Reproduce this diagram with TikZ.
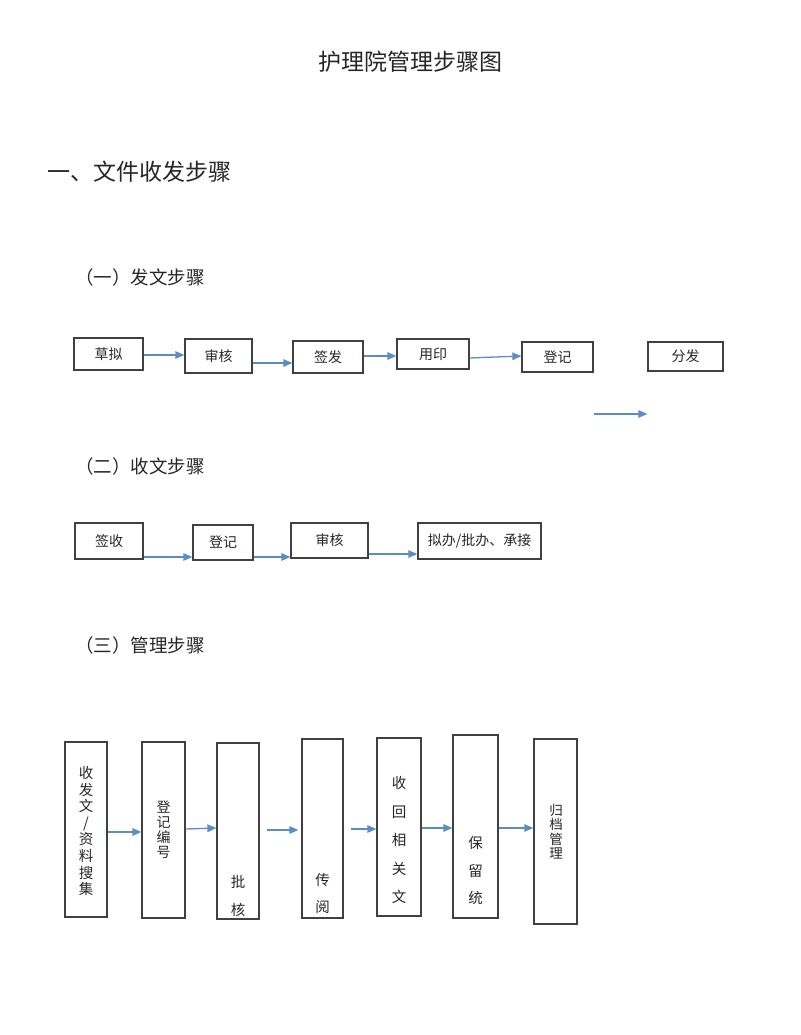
\documentclass[tikz,border=0pt]{standalone}
\usepackage{fontspec}
\setmainfont{Noto Sans CJK SC}
\usetikzlibrary{arrows.meta}
\definecolor{arrowblue}{HTML}{5B8CC4}
\definecolor{boxline}{HTML}{404040}
\definecolor{txt}{HTML}{262626}
\begin{document}
\begin{tikzpicture}[x=1pt,y=-1pt,
  box/.style={draw=boxline, line width=1.3pt, rectangle, inner sep=0pt, text=txt, font=\fontsize{14}{16}\selectfont},
  arr/.style={draw=arrowblue, line width=1.3pt, -{Triangle[length=9pt,width=7.5pt]}},
  vtext/.style={text=txt, align=center, inner sep=0pt},
  head/.style={text=txt, inner sep=0pt}]
\useasboundingbox (0,0) rectangle (800,1035);

% titles
\node[head, font=\fontsize{23}{25}\selectfont] (title) at (410.5,62) {护理院管理步骤图};
\node[head, anchor=west, font=\fontsize{23}{25}\selectfont] (h1) at (47,172) {一、文件收发步骤};
\node[head, anchor=west, font=\fontsize{18.5}{20}\selectfont] (s1) at (75,277) {（一）发文步骤};
\node[head, anchor=west, font=\fontsize{18.5}{20}\selectfont] (s2) at (75,466) {（二）收文步骤};
\node[head, anchor=west, font=\fontsize{18.5}{20}\selectfont] (s3) at (75,645) {（三）管理步骤};

% row 1
\node[box, minimum width=69pt, minimum height=32pt] (a1) at (108.5,354) {草拟};
\node[box, minimum width=67pt, minimum height=34pt] (a2) at (218.5,356) {审核};
\node[box, minimum width=70pt, minimum height=32pt] (a3) at (328,357) {签发};
\node[box, minimum width=72pt, minimum height=30pt] (a4) at (433,354) {用印};
\node[box, minimum width=71pt, minimum height=30pt] (a5) at (557.5,357) {登记};
\node[box, minimum width=75pt, minimum height=29pt] (a6) at (685.5,356.5) {分发};

\draw[arr] (a1.east |- 0,355) -- (a2.west |- 0,355);
\draw[arr] (a2.east |- 0,363) -- (a3.west |- 0,363);
\draw[arr] (a3.east |- 0,356) -- (a4.west |- 0,356);
\draw[arr] (a4.east |- 0,358) -- (a5.west |- 0,356);
\draw[arr] (a5.east |- 0,414) -- (a6.west |- 0,414);

% row 2
\node[box, minimum width=68pt, minimum height=36pt] (b1) at (109,541) {签收};
\node[box, minimum width=60pt, minimum height=35pt] (b2) at (223,542.5) {登记};
\node[box, minimum width=77pt, minimum height=35pt] (b3) at (329.5,540.5) {审核};
\node[box, minimum width=123pt, minimum height=36pt] (b4) at (479.5,541) {拟办/批办、承接};

\draw[arr] (b1.east |- 0,557) -- (b2.west |- 0,557);
\draw[arr] (b2.east |- 0,557) -- (b3.west |- 0,557);
\draw[arr] (b3.east |- 0,554) -- (b4.west |- 0,554);

% row 3
\node[box, minimum width=42pt, minimum height=175pt] (c1) at (86,829.5) {};
\node[box, minimum width=43pt, minimum height=176pt] (c2) at (163.5,830) {};
\node[box, minimum width=42pt, minimum height=176pt] (c3) at (238,831) {};
\node[box, minimum width=41pt, minimum height=179pt] (c4) at (322.5,828.5) {};
\node[box, minimum width=44pt, minimum height=178pt] (c5) at (399,827) {};
\node[box, minimum width=45pt, minimum height=183pt] (c6) at (475.5,826.5) {};
\node[box, minimum width=43pt, minimum height=185pt] (c7) at (555.5,831.5) {};

\node[vtext, font=\fontsize{14.5}{16.6}\selectfont] (t1) at (86,831) {收\\发\\文\\/\\资\\料\\搜\\集};
\node[vtext, font=\fontsize{14}{15}\selectfont] (t2) at (163.5,830) {登\\记\\编\\号};
\node[vtext, font=\fontsize{14.5}{28}\selectfont] (t3) at (238,896) {批\\核};
\node[vtext, font=\fontsize{14.5}{27}\selectfont] (t4) at (322.5,893.5) {传\\阅};
\node[vtext, font=\fontsize{14.5}{28.5}\selectfont] (t5) at (399,840) {收\\回\\相\\关\\文};
\node[vtext, font=\fontsize{14.5}{27.5}\selectfont] (t6) at (475.5,870.5) {保\\留\\统};
\node[vtext, font=\fontsize{13.5}{14.3}\selectfont] (t7) at (556,831.5) {归\\档\\管\\理};

\draw[arr] (c1.east |- 0,832) -- (c2.west |- 0,832);
\draw[arr] (c2.east |- 0,829) -- (c3.west |- 0,828);
\draw[arr, shorten <=7pt, shorten >=3pt] (c3.east |- 0,830) -- (c4.west |- 0,830);
\draw[arr, shorten <=7pt] (c4.east |- 0,829) -- (c5.west |- 0,829);
\draw[arr] (c5.east |- 0,828) -- (c6.west |- 0,828);
\draw[arr] (c6.east |- 0,828) -- (c7.west |- 0,828);
\end{tikzpicture}
\end{document}
